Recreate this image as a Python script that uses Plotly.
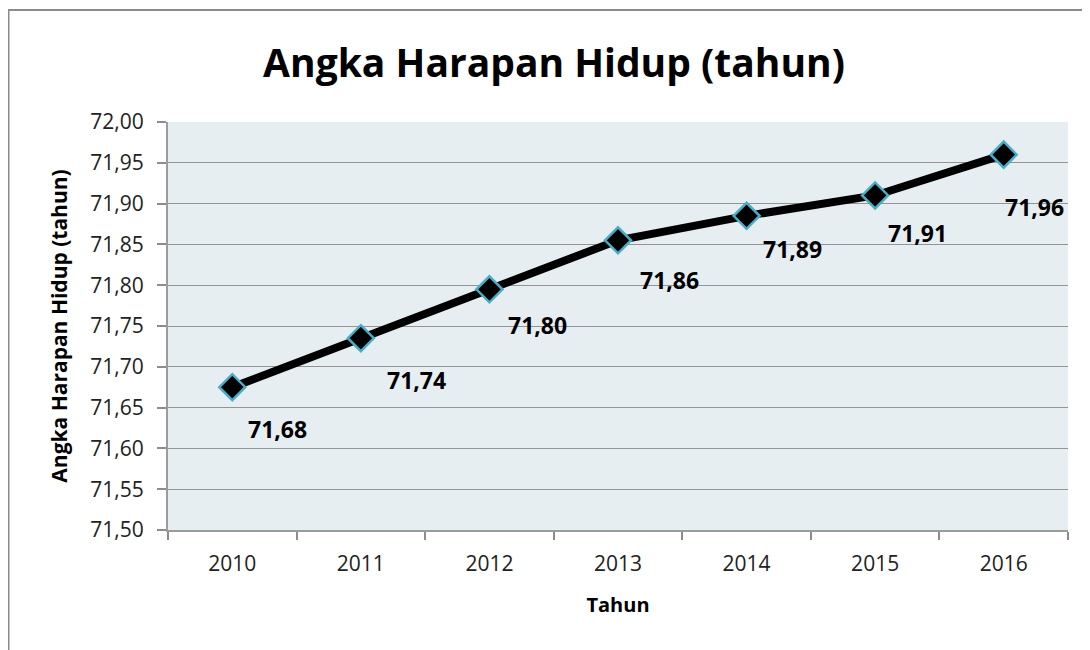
import plotly.graph_objects as go

# ---- data ----
years = ["2010", "2011", "2012", "2013", "2014", "2015", "2016"]
values = [71.675, 71.735, 71.795, 71.855, 71.885, 71.91, 71.96]
labels = ["71,68", "71,74", "71,80", "71,86", "71,89", "71,91", "71,96"]
y_ticks = [71.50, 71.55, 71.60, 71.65, 71.70, 71.75, 71.80, 71.85, 71.90, 71.95, 72.00]

# ---- style ----
FONT = "Open Sans"
label_offsets = [(45, -42), (56, -42), (48, -36), (51, -40), (46, -33), (42, -38), (31, -52)]

fig = go.Figure()
fig.add_trace(go.Scatter(
    x=years, y=values, mode="lines+markers",
    line=dict(color="black", width=8),
    marker=dict(symbol="diamond", size=20, color="black",
                line=dict(color="#4BACC6", width=2.5)),
    showlegend=False, hoverinfo="skip",
))

for i, (yv, t, (dx, dy)) in enumerate(zip(values, labels, label_offsets)):
    fig.add_annotation(x=i, y=yv, xref="x", yref="y", text="<b>" + t + "</b>",
                       showarrow=False, xshift=dx, yshift=dy,
                       font=dict(family=FONT, size=23, color="black"))

# outer chart frame (page offset of 8px is the html body margin)
fig.add_shape(type="rect", xref="paper", yref="paper",
              x0=(8.5 - 168) / 900, x1=(1110 - 168) / 900,
              y0=-0.4, y1=(530 - 10) / 408,
              line=dict(color="#8a8a8a", width=2), fillcolor="rgba(0,0,0,0)",
              layer="below")

fig.update_layout(
    width=1082, height=642,
    margin=dict(l=160, r=22, t=114, b=120),
    paper_bgcolor="white", plot_bgcolor="#E7EEF2",
    separators=",.",
    font=dict(family=FONT, color="#222"),
    title=dict(text="<b>Angka Harapan Hidup (tahun)</b>",
               x=546 / 1082, xanchor="center", xref="container",
               y=1 - 55 / 642, yanchor="middle", yref="container",
               font=dict(family=FONT, size=39, color="black")),
    xaxis=dict(type="category", range=[-0.5, 6.5], tickson="boundaries",
               ticks="outside", ticklen=8, tickcolor="#8c8c8c", tickwidth=1.5,
               showline=True, linecolor="#9c9c9c", linewidth=2,
               showgrid=False, zeroline=False, ticklabelstandoff=14,
               tickfont=dict(family=FONT, size=21, color="#222"),
               title=dict(text="<b>Tahun</b>", standoff=22,
                          font=dict(family=FONT, size=20, color="black"))),
    yaxis=dict(range=[71.5, 72.0], tickvals=y_ticks, tickformat=".2f",
               ticks="outside", ticklen=9, tickcolor="#8c8c8c", tickwidth=1.5,
               showline=True, linecolor="#9c9c9c", linewidth=2,
               showgrid=True, gridcolor="#949494", gridwidth=1.3,
               zeroline=False, ticklabelstandoff=9,
               tickfont=dict(family=FONT, size=21, color="#222"),
               title=dict(text="<b>Angka Harapan Hidup (tahun)</b>", standoff=17,
                          font=dict(family=FONT, size=21, color="black"))),
)

fig.write_html("out.html")
